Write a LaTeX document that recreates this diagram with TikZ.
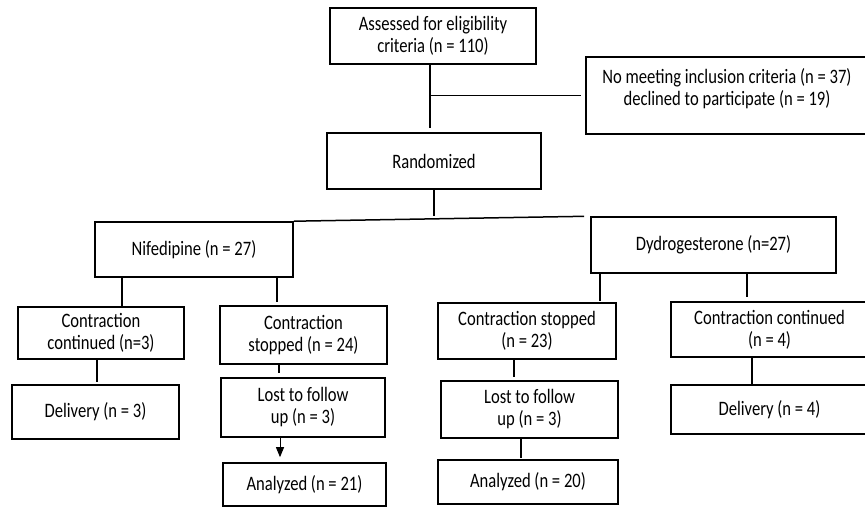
\documentclass[tikz,border=0pt]{standalone}
\usepackage{fontspec}
\setmainfont{Carlito}[FakeStretch=0.81]
\usetikzlibrary{arrows.meta}

\tikzset{
  box/.style={draw, line width=1.6pt, align=center, inner sep=2pt,
    font=\fontsize{20.5}{22}\selectfont},
  link/.style={line width=1.5pt},
}

\begin{document}
\begin{tikzpicture}[x=1pt,y=-1pt]
\useasboundingbox (0,0) rectangle (865,507);
% boxes
\node[box, minimum width=206pt, minimum height=56pt] (assess) at (433,36) {Assessed for eligibility\\criteria (n = 110)};
\node[box, minimum width=282pt, minimum height=77pt] (excl) at (727,95.5) {No meeting inclusion criteria (n = 37)\\declined to participate (n = 19)\\[-5pt]\mbox{}};
\node[box, minimum width=214pt, minimum height=56pt] (rand) at (434,161) {Randomized};
\node[box, minimum width=198pt, minimum height=55pt] (nif) at (194,249.5) {Nifedipine (n = 27)};
\node[box, minimum width=245pt, minimum height=56pt] (dyd) at (713.5,245) {Dydrogesterone (n=27)};
\node[box, minimum width=166pt, minimum height=52pt] (cc1) at (101,333) {Contraction\\continued (n=3)};
\node[box, minimum width=167pt, minimum height=58pt] (cs1) at (303.5,335) {Contraction\\stopped (n = 24)};
\node[box, minimum width=178pt, minimum height=56pt] (cs2) at (527,331) {Contraction stopped\\(n = 23)};
\node[box, minimum width=197pt, minimum height=55pt] (cc2) at (769.5,329.5) {Contraction continued\\(n = 4)};
\node[box, minimum width=167pt, minimum height=54pt] (del1) at (95.5,412) {Delivery (n = 3)};
\node[box, minimum width=164pt, minimum height=59pt] (lost1) at (303,407.5) {Lost to follow\\up (n = 3)};
\node[box, minimum width=177pt, minimum height=57pt] (lost2) at (529.5,409.5) {Lost to follow\\up (n = 3)};
\node[box, minimum width=197pt, minimum height=49pt] (del2) at (769.5,409.5) {Delivery (n = 4)};
\node[box, minimum width=163pt, minimum height=43pt] (ana1) at (304.5,484.5) {Analyzed (n = 21)};
\node[box, minimum width=180pt, minimum height=44pt] (ana2) at (528,482) {Analyzed (n = 20)};

% trunk and branches
\coordinate (t) at (430,0);
\draw[link, shorten >=4pt] (t |- assess.south) -- (t |- rand.north);
\draw[link, shorten >=4pt] (t |- excl.west) -- (excl.west);
\draw[link] (rand.south) -- (rand.south |- dyd.north);
\draw[link, shorten >=6pt] (nif.north east) -- (dyd.north west);

% vertical links
\foreach \n/\x/\a/\b/\g in {x1/122/nif/cc1/0, x2/277/nif/cs1/3, x3/600/dyd/cs2/1, x4/747/dyd/cc2/4,
  x5/97/cc1/del1/2, x6/279/cs1/lost1/4, x7/514/cs2/lost2/3, x8/752/cc2/del2/0, x9/521/lost2/ana2/1}
{
\coordinate (\n) at (\x,0);
\draw[link, shorten >=\g pt] (\n |- \a.south) -- (\n |- \b.north);
}
\coordinate (x10) at (280,0);
\draw[line width=0.9pt, -{Triangle[length=10pt,width=8pt]}, shorten >=5pt] (x10 |- lost1.south) -- (x10 |- ana1.north);

\end{tikzpicture}
\end{document}
